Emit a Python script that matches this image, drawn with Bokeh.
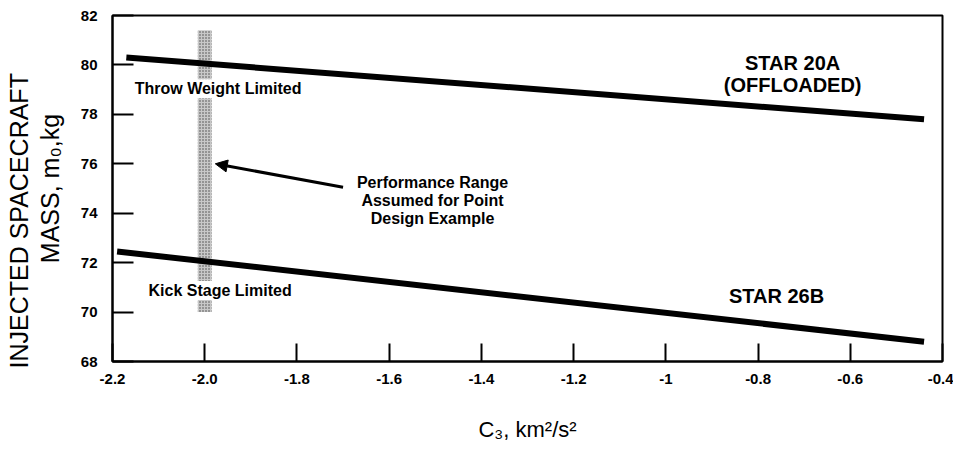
from bokeh.plotting import figure
from bokeh.models import Label, Arrow, NormalHead, FixedTicker, Range1d, Title
from bokeh.embed import file_html
from bokeh.resources import INLINE

# ---- data ----
star20a_c3 = [-2.17, -0.44]
star20a_mass = [80.3, 77.8]
star26b_c3 = [-2.19, -0.44]
star26b_mass = [72.45, 68.8]

band_c3 = [-2.0]
band_low = [70.0]
band_high = [81.4]

x_ticks = [-2.2, -2.0, -1.8, -1.6, -1.4, -1.2, -1.0, -0.8, -0.6, -0.4]
x_tick_labels = ["-2.2", "-2.0", "-1.8", "-1.6", "-1.4", "-1.2", "-1", "-0.8", "-0.6", "-0.4"]
y_ticks = [68, 70, 72, 74, 76, 78, 80, 82]

arrow_tail = (-1.70, 75.05)
arrow_head = (-1.977, 76.0)

FONT = "Liberation Sans"

p = figure(width=953, height=462, x_range=Range1d(-2.2, -0.4), y_range=Range1d(68, 82),
           output_backend="svg", toolbar_location=None,
           min_border_left=112, min_border_right=11, min_border_top=15, min_border_bottom=101)

p.xgrid.visible = False
p.ygrid.visible = False
p.outline_line_color = "black"
p.outline_line_width = 2
p.background_fill_color = "white"
p.border_fill_color = "white"

# axes
p.xaxis.ticker = FixedTicker(ticks=x_ticks)
p.xaxis.major_label_overrides = {t: l for t, l in zip(x_ticks, x_tick_labels)}
p.yaxis.ticker = FixedTicker(ticks=y_ticks)
for ax in (p.xaxis[0], p.yaxis[0]):
    ax.axis_line_width = 2
    ax.axis_line_color = "black"
    ax.major_tick_line_width = 2
    ax.major_tick_line_color = "black"
    ax.minor_tick_line_color = None
    ax.major_tick_out = 0
    ax.major_label_text_font = FONT
    ax.major_label_text_font_style = "bold"
    ax.major_label_text_font_size = "15px"
    ax.major_label_text_color = "black"
    ax.axis_label_text_font = FONT
    ax.axis_label_text_font_style = "normal"
    ax.axis_label_text_color = "black"
p.xaxis.major_tick_in = 18
p.yaxis.major_tick_in = 21
p.xaxis.major_label_standoff = 12
p.yaxis.major_label_standoff = 15
p.xaxis.axis_label = "C₃, km²/s²"
p.xaxis.axis_label_text_font_size = "22px"
p.xaxis.axis_label_standoff = 30

# y-axis title: inner line as the axis label, outer line as a side title
p.yaxis.axis_label = "MASS, m₀,kg"
p.yaxis.axis_label_text_font_size = "25px"
p.yaxis.axis_label_standoff = 14
p.add_layout(Title(text="INJECTED SPACECRAFT", align="left", offset=-7, standoff=0,
                   text_font=FONT, text_font_style="normal", text_font_size="25px",
                   text_color="black"), "left")

# performance band
p.quad(left=[c - 0.015 for c in band_c3], right=[c + 0.015 for c in band_c3],
       bottom=band_low, top=band_high, fill_color="#c8c8c8", line_color=None,
       hatch_pattern="dot", hatch_color="#444444", hatch_scale=3, hatch_weight=1)

# region labels with white backgrounds (break the band)
p.add_layout(Label(x=-2.154, y=79.04, text="Throw Weight Limited", text_baseline="middle",
                   text_font=FONT, text_font_style="bold", text_font_size="16px",
                   text_color="black", background_fill_color="white", padding=1))
p.add_layout(Label(x=-2.124, y=70.87, text="Kick Stage Limited", text_baseline="middle",
                   text_font=FONT, text_font_style="bold", text_font_size="16px",
                   text_color="black", background_fill_color="white", padding=1))

# curves
p.line(star20a_c3, star20a_mass, line_width=6, line_color="black")
p.line(star26b_c3, star26b_mass, line_width=6, line_color="black")

# curve labels
p.add_layout(Label(x=-0.725, y=79.65, text="STAR 20A\n(OFFLOADED)", text_align="center",
                   text_baseline="middle", text_font=FONT, text_font_style="bold",
                   text_font_size="20px", text_line_height=1.0, text_color="black"))
p.add_layout(Label(x=-0.76, y=70.65, text="STAR 26B", text_align="center",
                   text_baseline="middle", text_font=FONT, text_font_style="bold",
                   text_font_size="20px", text_color="black"))

# annotation
p.add_layout(Arrow(end=NormalHead(size=12, fill_color="black", line_color="black"),
                   x_start=arrow_tail[0], y_start=arrow_tail[1],
                   x_end=arrow_head[0], y_end=arrow_head[1],
                   line_width=3, line_color="black"))
p.add_layout(Label(x=-1.506, y=74.51, text="Performance Range\nAssumed for Point\nDesign Example",
                   text_align="center", text_baseline="middle", text_font=FONT,
                   text_font_style="bold", text_font_size="16px", text_line_height=1.05,
                   text_color="black"))

open("out.html", "w").write(file_html(p, INLINE))
